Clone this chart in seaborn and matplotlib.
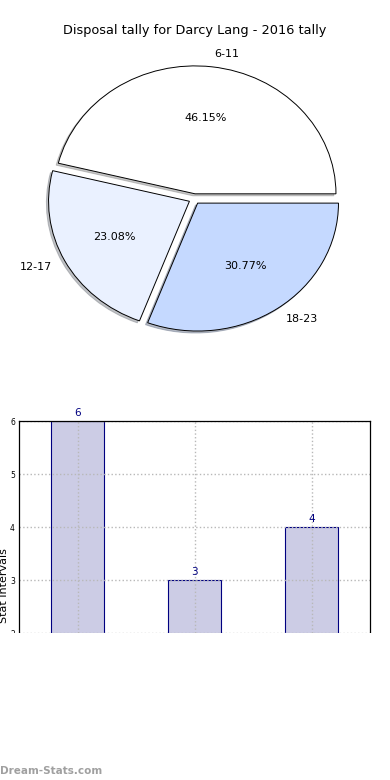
import matplotlib
matplotlib.use("Agg")
import matplotlib.pyplot as plt
import seaborn as sns
import pandas as pd
from matplotlib.patches import Rectangle

title = "Disposal tally for Darcy Lang - 2016 tally"
intervals = ["6-11", "12-17", "18-23"]
tally = [6, 3, 4]
pie_colors = ["#ffffff", "#eaf1ff", "#c5d9ff"]
bar_color = "#ccccе5".replace("е", "e")
edge_color = "#000080"

sns.set_style("white")
plt.rcParams["font.family"] = ["DejaVu Sans"]
plt.rcParams["text.color"] = "black"
plt.rcParams["axes.labelcolor"] = "black"
plt.rcParams["ytick.color"] = "black"

fig = plt.figure(figsize=(3.9, 7.8), dpi=100)

# pie (top)
ax1 = fig.add_axes([0.047, 0.540, 0.903, 0.410])
ax1.pie(tally, labels=intervals, colors=pie_colors, autopct="%.2f%%",
        explode=[0.04] * len(tally),
        shadow={"ox": -0.011, "oy": -0.011, "shade": 0.45},
        startangle=0,
        wedgeprops={"edgecolor": "black", "linewidth": 0.7},
        textprops={"fontsize": 8, "color": "black"})
ax1.set_aspect("auto")
ax1.set_xlim(-1.25, 1.25)
ax1.set_ylim(-1.25, 1.25)
fig.text(0.5, 0.961, title, ha="center", va="center", fontsize=9.3)

# bars (bottom)
df = pd.DataFrame({"interval": intervals, "tally": tally})
ax2 = fig.add_axes([0.049, 0.188, 0.900, 0.272])
sns.barplot(data=df, x="interval", y="tally", color=bar_color, width=0.45,
            edgecolor=edge_color, linewidth=0.8, saturation=1, ax=ax2)
for p, v in zip(ax2.patches, tally):
    ax2.text(p.get_x() + p.get_width() / 2, v + 0.06, str(v), ha="center",
             va="bottom", fontsize=7.5, color=edge_color)
ax2.set_ylim(2, 6)
ax2.set_xlim(-0.5, 2.5)
ax2.set_yticks([2, 3, 4, 5, 6])
ax2.tick_params(axis="y", labelsize=5.5, length=0, pad=3)
ax2.tick_params(axis="x", labelbottom=False, length=0)
ax2.grid(True, linestyle=":", color="#b8b8b8", linewidth=1.0)
ax2.set_axisbelow(False)
for p in ax2.patches:
    p.set_zorder(1)
ax2.set_xlabel("")
ax2.set_ylabel("Stat Intervals", fontsize=8)
ax2.yaxis.set_label_coords(-0.028, 0.226)
for s in ax2.spines.values():
    s.set_color("black")
    s.set_linewidth(0.9)
    s.set_zorder(4)
ax2.spines["bottom"].set_visible(False)

# white band hiding the lower part of the bar panel
fig.patches.append(Rectangle((0, 0.04), 1, 0.1485, transform=fig.transFigure,
                             facecolor="white", edgecolor="none", zorder=10))

fig.text(0.0, 0.012, "Dream-Stats.com", ha="left", va="center",
         fontsize=7.5, color="#a0a0a0", fontweight="bold")

fig.savefig("out.png", dpi=100)
